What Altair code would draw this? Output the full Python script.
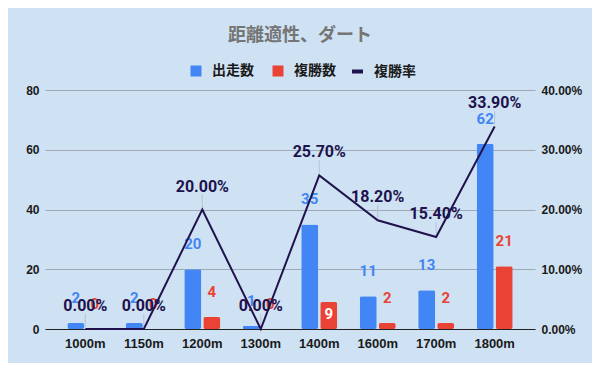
import altair as alt
import pandas as pd

cats = ["1000m", "1150m", "1200m", "1300m", "1400m", "1600m", "1700m", "1800m"]
starts = [2, 2, 20, 1, 35, 11, 13, 62]
places = [0, 0, 4, 0, 9, 2, 2, 21]
rates = [0.0, 0.0, 20.0, 0.0, 25.7, 18.2, 15.4, 33.9]

series = ["出走数", "複勝数", "複勝率"]
colors = ["#4285f4", "#ea4335", "#20124d"]

rows = []
for c, s, p in zip(cats, starts, places):
    rows.append({"cat": c, "series": series[0], "v": s})
    rows.append({"cat": c, "series": series[1], "v": p})
bars_df = pd.DataFrame(rows)
line_df = pd.DataFrame({"cat": cats, "rate": [r / 100 for r in rates],
                        "series": series[2]})

AXF = "Liberation Sans"
LBF = "Roboto"
JPF = "Noto Sans CJK JP"

x = alt.X("cat:N", sort=cats, title=None,
          scale=alt.Scale(paddingInner=0, paddingOuter=0.19),
          axis=alt.Axis(labelAngle=0, labelFont=AXF, labelFontWeight="bold",
                        labelFontSize=13, labelColor="#1a1a1a", labelPadding=8,
                        ticks=False, domain=True, domainColor="#222222",
                        domainWidth=1, grid=False))

leg_common = dict(orient="none", direction="horizontal", title=None,
                  labelFont=JPF, labelFontWeight="bold", labelFontSize=14,
                  labelColor="#1a1a1a", symbolSize=121, columnPadding=17,
                  labelOffset=9)

yl = alt.Y("v:Q", title=None,
           scale=alt.Scale(domain=[0, 80], nice=False),
           axis=alt.Axis(values=[0, 20, 40, 60, 80], labelFont=AXF,
                         labelFontWeight="bold", labelFontSize=12,
                         labelColor="#1a1a1a", labelPadding=6, ticks=False,
                         domain=False, grid=True, gridColor="#9fa9b5",
                         gridWidth=1))

xoff = alt.XOffset("series:N", sort=series[:2],
                   scale=alt.Scale(paddingInner=0.105, paddingOuter=0.59))

bars = alt.Chart(bars_df).mark_bar(cornerRadius=2).encode(
    x=x, y=yl, xOffset=xoff,
    color=alt.Color("series:N",
                    scale=alt.Scale(domain=series[:2], range=colors[:2]),
                    legend=alt.Legend(legendX=144, legendY=-26,
                                      symbolType="square", symbolStrokeWidth=0,
                                      **leg_common)),
)

inside = "datum.cat === '1400m' && datum.series === '複勝数'"

bar_text_out = alt.Chart(bars_df).transform_filter(f"!({inside})").transform_calculate(
    tc="datum.series === '出走数' ? '#4285f4' : '#ea4335'",
).mark_text(font=LBF, fontWeight="bold", fontSize=15, baseline="middle",
            dy=-25).encode(
    x=x, y=yl, xOffset=xoff,
    text=alt.Text("v:Q"),
    fill=alt.Fill("tc:N", scale=None),
)

bar_text_in = alt.Chart(bars_df).transform_filter(inside).mark_text(
    font=LBF, fontWeight="bold", fontSize=15, baseline="middle", dy=12,
    fill="#ffffff").encode(
    x=x, y=yl, xOffset=xoff,
    text=alt.Text("v:Q"),
)

left = alt.layer(bars, bar_text_out, bar_text_in)

yr = alt.Y("rate:Q", title=None,
           scale=alt.Scale(domain=[0, 0.4], nice=False),
           axis=alt.Axis(values=[0, 0.1, 0.2, 0.3, 0.4], format=".2%",
                         orient="right", labelFont=AXF, labelFontWeight="bold",
                         labelFontSize=12, labelColor="#1a1a1a", labelPadding=6,
                         ticks=False, domain=False, grid=False))

leader = alt.Chart(line_df).mark_rule(
    color="#b4c2d0", strokeWidth=1, yOffset=-2, y2Offset=-15).encode(
    x=x, y=yr, y2=alt.Y2("rate:Q"))

line = alt.Chart(line_df).mark_line(strokeWidth=2).encode(
    x=x, y=yr,
    stroke=alt.Stroke("series:N",
                      scale=alt.Scale(domain=series[2:], range=colors[2:]),
                      legend=alt.Legend(legendX=305, legendY=-26,
                                        symbolType="stroke",
                                        symbolStrokeWidth=4, **leg_common)),
)
line_text = alt.Chart(line_df).mark_text(
    font=LBF, fontWeight="bold", fontSize=16, color="#20124d",
    baseline="middle", dy=-23).encode(
    x=x, y=yr, text=alt.Text("rate:Q", format=".2%"))

right = alt.layer(leader, line, line_text)

chart = alt.layer(left, right).resolve_scale(y="independent").properties(
    width=490, height=239,
    autosize=alt.AutoSizeParams(type="none"),
    padding={"left": 37, "top": 82, "right": 57, "bottom": 34},
    background="#cfe2f3",
    title=alt.TitleParams("距離適性、ダート", font=JPF,
                          fontSize=18, fontWeight="bold", color="#757575",
                          anchor="middle", dx=10, offset=19),
).configure_view(stroke=None)

chart.save("out.html", embed_options={"renderer": "svg", "actions": False})
